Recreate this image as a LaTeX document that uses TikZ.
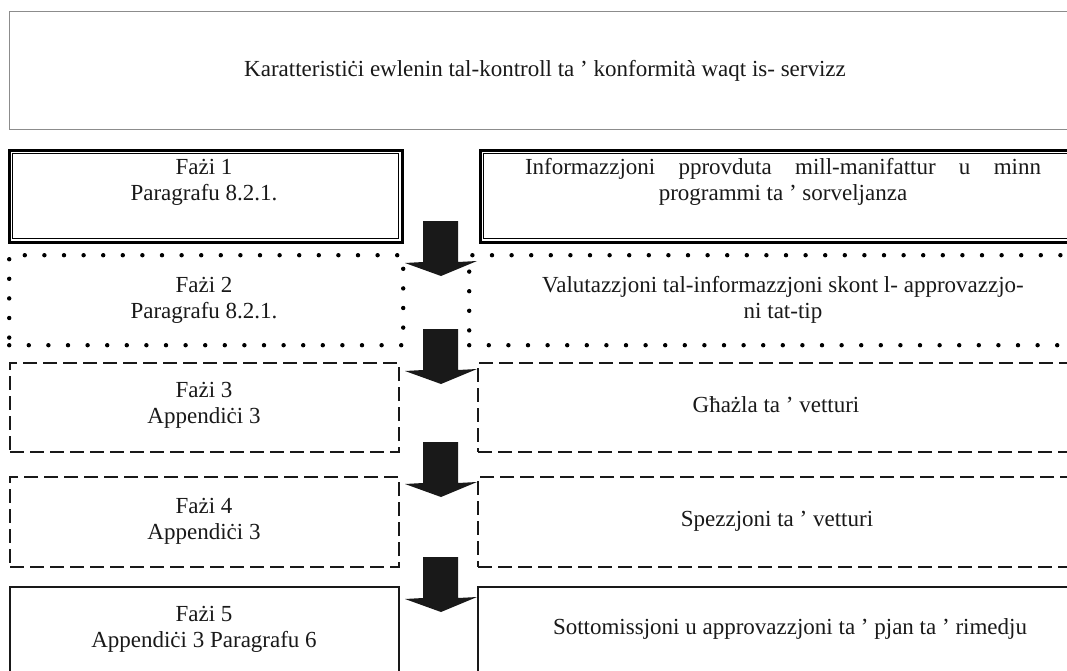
\documentclass[tikz,border=0pt]{standalone}
\usepackage{fontspec}
\setmainfont{Liberation Serif}
\begin{document}
\begin{tikzpicture}[x=1pt,y=-1pt,
  txt/.style={font=\fontsize{23}{26}\selectfont, align=center, inner sep=0pt, text=black!90},
  headbox/.style={draw=black!45, line width=1.3pt},
  dblbox/.style={draw=black, line width=3pt},
  dotbox/.style={draw=black, line width=4.4pt, line cap=round, dash pattern=on 0pt off 19.6pt},
  dashbox/.style={draw=black!90, line width=2pt, dash pattern=on 14pt off 6pt},
  solidbox/.style={draw=black!90, line width=2pt},
  blockarrow/.style={fill=black!90}]
\useasboundingbox (0,0) rectangle (1067,670);
\clip (0,0) rectangle (1067,670);
\fill[white] (0,0) rectangle (1067,670);

% box outlines (drawn from corner to corner)
\newcommand{\boxat}[6]{%
  \node[#1, anchor=north west, inner sep=0pt, minimum width=#4pt, minimum height=#5pt] (#6) at (#2,#3) {};}

\boxat{headbox}{9}{11}{1081}{118}{head}
\boxat{dblbox}{7.5}{148.5}{393}{92}{pa}
\boxat{dblbox}{478.5}{148.5}{612}{92}{pb}
\draw[line width=0.9pt] ([xshift=5pt,yshift=-5pt]pa.north west) rectangle ([xshift=-5pt,yshift=5pt]pa.south east);
\draw[line width=0.9pt] ([xshift=5pt,yshift=-5pt]pb.north west) rectangle ([xshift=-5pt,yshift=5pt]pb.south east);
\boxat{dotbox}{7}{253}{394}{90}{qa}
\boxat{dotbox}{467}{253}{623}{90}{qb}
\boxat{dashbox}{9}{362}{389}{89}{ra}
\boxat{dashbox}{477}{362}{613}{89}{rb}
\boxat{dashbox}{9}{476}{389}{90}{sa}
\boxat{dashbox}{477}{476}{613}{90}{sb}
\boxat{solidbox}{9}{586}{389}{120}{ta}
\boxat{solidbox}{477}{586}{613}{120}{tb}

% texts
\node[txt] (headtxt) at (545,71) {Karatteristiċi ewlenin tal-kontroll ta ’ konformità waqt is- servizz};
\node[txt] (patxt) at (204,182) {Fażi 1\\Paragrafu 8.2.1.};
\node[txt] (pbtxt) at (783,182) {\makebox[516pt][s]{Informazzjoni pprovduta mill-manifattur u minn}\\programmi ta ’ sorveljanza};
\node[txt] (qatxt) at (204,300) {Fażi 2\\Paragrafu 8.2.1.};
\node[txt] (qbtxt) at (783,300) {Valutazzjoni tal-informazzjoni skont l- approvazzjo-\\ni tat-tip};
\node[txt] (ratxt) at (204,405) {Fażi 3\\Appendiċi 3};
\node[txt] (rbtxt) at (776,405) {Għażla ta ’ vetturi};
\node[txt] (satxt) at (204,521) {Fażi 4\\Appendiċi 3};
\node[txt] (sbtxt) at (777,521) {Spezzjoni ta ’ vetturi};
\node[txt] (tatxt) at (204,629) {Fażi 5\\Appendiċi 3 Paragrafu 6};
\node[txt] (tbtxt) at (790,629) {Sottomissjoni u approvazzjoni ta ’ pjan ta ’ rimedju};

% block arrows between the stages
\newcommand{\flowarrow}[1]{%
  \fill[blockarrow] (423,#1) -- (458,#1) -- (458,#1+41) -- (477,#1+40) -- (441,#1+55)
    -- (405,#1+42) -- (423,#1+41) -- cycle;}
\flowarrow{221}
\flowarrow{329}
\flowarrow{442}
\flowarrow{557}
\end{tikzpicture}
\end{document}
